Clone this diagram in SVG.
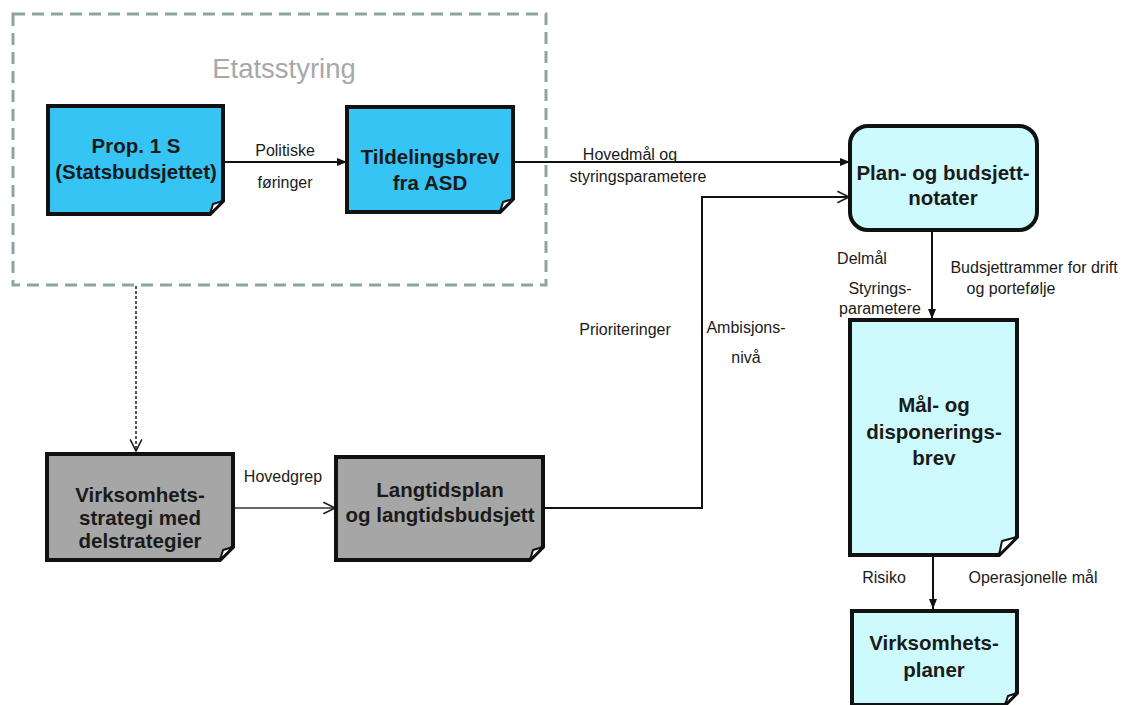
<svg xmlns="http://www.w3.org/2000/svg" width="1125" height="705" viewBox="0 0 1125 705">
  <defs>
    <style>
      .box { stroke: #111; stroke-width: 4; stroke-linejoin: miter; }
      .fold { fill: #fff; stroke: #111; stroke-width: 2; stroke-linejoin: round; }
      .blue { fill: #35c4f4; }
      .grey { fill: #a6a6a6; }
      .pale { fill: #cdfafd; }
      .title { font-family: "Liberation Sans", Arial, sans-serif; font-weight: bold; font-size: 20.5px; fill: #1a1a1a; text-anchor: middle; }
      .lbl { font-family: "Liberation Sans", Arial, sans-serif; font-size: 16px; fill: #1a1a1a; text-anchor: middle; }
      .wire { fill: none; stroke: #111; stroke-width: 2; }
      .thin { fill: none; stroke: #333; stroke-width: 1.3; }
    </style>
    <marker id="solidBig" viewBox="0 0 10 10" refX="10" refY="5" markerWidth="10" markerHeight="10" orient="auto" markerUnits="userSpaceOnUse">
      <path d="M0,1 L10,5 L0,9 Z" fill="#111"/>
    </marker>
    <marker id="open" viewBox="0 0 12 12" refX="11" refY="6" markerWidth="14" markerHeight="14" orient="auto" markerUnits="userSpaceOnUse">
      <path d="M1,1 L11,6 L1,11" fill="none" stroke="#222" stroke-width="1.4"/>
    </marker>
  </defs>

  <rect width="1125" height="705" fill="#fff"/>

  <!-- Etatsstyring frame -->
  <g id="etatsstyring">
    <rect x="13" y="14" width="533" height="271" fill="none" stroke="#8ea3a3" stroke-width="3" stroke-dasharray="12 7"/>
    <text x="284" y="78" font-family="Liberation Sans, Arial, sans-serif" font-size="27.5" fill="#a8a8a8" text-anchor="middle">Etatsstyring</text>
  </g>

  <!-- connectors -->
  <g id="connectors">
    <line class="wire" x1="223" y1="162" x2="347" y2="162" marker-end="url(#solidBig)"/>
    <line class="wire" x1="513" y1="162" x2="850" y2="162" marker-end="url(#solidBig)"/>
    <polyline class="wire" points="543,508 702,508 702,197 849,197" marker-end="url(#open)"/>
    <line class="wire" x1="932" y1="230" x2="932" y2="319" marker-end="url(#solidBig)"/>
    <line class="wire" x1="933" y1="556" x2="933" y2="609" marker-end="url(#solidBig)"/>
    <line class="thin" x1="233" y1="508" x2="335" y2="508" marker-end="url(#open)"/>
    <line x1="136" y1="286" x2="136" y2="451" stroke="#555" stroke-width="2" stroke-dasharray="3 2" marker-end="url(#open)"/>

    <text class="lbl" x="285" y="156">Politiske</text>
    <text class="lbl" x="285" y="188">føringer</text>
    <text class="lbl" x="630" y="160">Hovedmål  og</text>
    <text class="lbl" x="638" y="182">styringsparametere</text>
    <text class="lbl" x="625" y="335">Prioriteringer</text>
    <text class="lbl" x="746" y="333">Ambisjons-</text>
    <text class="lbl" x="746" y="363">nivå</text>
    <text class="lbl" x="862" y="264">Delmål</text>
    <text class="lbl" x="880" y="294">Styrings-</text>
    <text class="lbl" x="880" y="314">parametere</text>
    <text class="lbl" x="1034" y="273">Budsjettrammer for drift</text>
    <text class="lbl" x="1011" y="294">og portefølje</text>
    <text class="lbl" x="283" y="482">Hovedgrep</text>
    <text class="lbl" x="884" y="583">Risiko</text>
    <text class="lbl" x="1033" y="583">Operasjonelle mål</text>
  </g>

  <!-- Prop. 1 S -->
  <g id="prop1s">
    <path class="box blue" d="M48,106 H223 V201 L210,214 H48 Z"/>
    <path class="fold" d="M210,214 L223,201 L213,204 Z"/>
    <text class="title" x="136" y="153">Prop. 1 S</text>
    <text class="title" x="136" y="179">(Statsbudsjettet)</text>
  </g>

  <!-- Tildelingsbrev -->
  <g id="tildelingsbrev">
    <path class="box blue" d="M347,107 H513 V199 L500,212 H347 Z"/>
    <path class="fold" d="M500,212 L513,199 L503,202 Z"/>
    <text class="title" x="430" y="164">Tildelingsbrev</text>
    <text class="title" x="430" y="190">fra ASD</text>
  </g>

  <!-- Plan- og budsjettnotater -->
  <g id="plannotater">
    <rect class="box pale" x="850" y="126" width="187" height="104" rx="18" ry="18"/>
    <text class="title" x="943" y="180">Plan- og budsjett-</text>
    <text class="title" x="943" y="205">notater</text>
  </g>

  <!-- Mål- og disponeringsbrev -->
  <g id="disponeringsbrev">
    <path class="box pale" d="M850,320 H1017 V537 L999,555 H850 Z"/>
    <path class="fold" d="M999,555 L1017,537 L1002,541 Z"/>
    <text class="title" x="934" y="412">Mål- og</text>
    <text class="title" x="934" y="439">disponerings-</text>
    <text class="title" x="934" y="465">brev</text>
  </g>

  <!-- Virksomhetsplaner -->
  <g id="virksomhetsplaner">
    <path class="box pale" d="M852,611 H1017 V693 L1005,705 H852 Z"/>
    <path class="fold" d="M1005,705 L1017,693 L1008,696 Z"/>
    <text class="title" x="934" y="650">Virksomhets-</text>
    <text class="title" x="934" y="677">planer</text>
  </g>

  <!-- Virksomhetsstrategi -->
  <g id="virksomhetsstrategi">
    <path class="box grey" d="M47,454 H233 V547 L220,560 H47 Z"/>
    <path class="fold" d="M220,560 L233,547 L223,550 Z"/>
    <text class="title" x="140" y="502">Virksomhets-</text>
    <text class="title" x="140" y="525">strategi med</text>
    <text class="title" x="140" y="548">delstrategier</text>
  </g>

  <!-- Langtidsplan -->
  <g id="langtidsplan">
    <path class="box grey" d="M336,457 H543 V547 L530,560 H336 Z"/>
    <path class="fold" d="M530,560 L543,547 L533,550 Z"/>
    <text class="title" x="440" y="497">Langtidsplan</text>
    <text class="title" x="440" y="522">og langtidsbudsjett</text>
  </g>
</svg>
